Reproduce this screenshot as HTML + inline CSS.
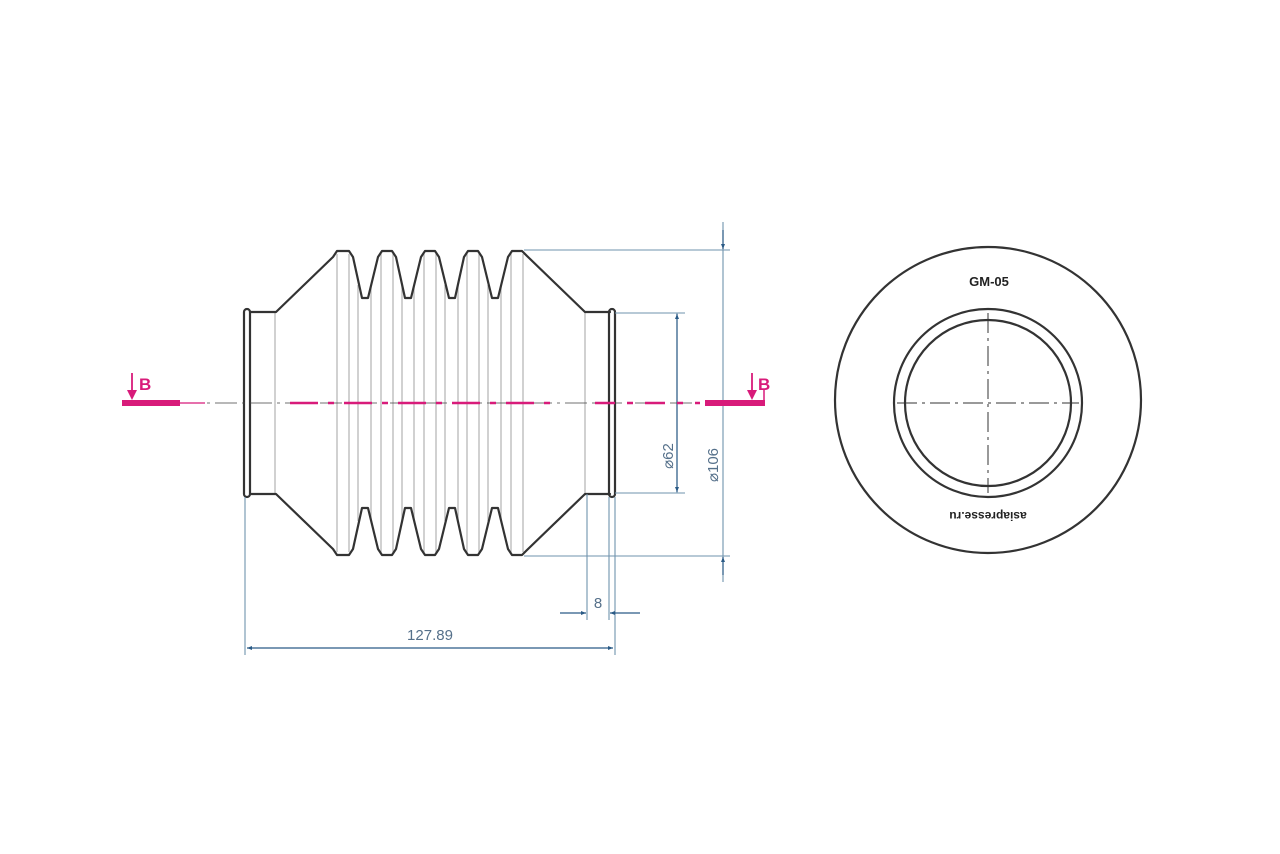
<!DOCTYPE html>
<html><head><meta charset="utf-8"><style>
html,body{margin:0;padding:0;background:#fff;}
svg{display:block;}
</style></head><body>
<svg width="1280" height="854" viewBox="0 0 1280 854" xmlns="http://www.w3.org/2000/svg">
<rect width="1280" height="854" fill="#fff"/>
<defs>
<marker id="ar" viewBox="0 0 10 10" refX="10" refY="5" markerWidth="9" markerHeight="5" orient="auto-start-reverse" markerUnits="userSpaceOnUse"><path d="M0,1 L10,5 L0,9 z" fill="#2a5a86"/></marker>
</defs>
<!-- gray crease lines -->
<g stroke="#b8b8b8" stroke-width="1.3">
<line x1="275" y1="312" x2="275" y2="494"/>
<line x1="585" y1="312" x2="585" y2="494"/>
<line x1="337" y1="254" x2="337" y2="552"/><line x1="349" y1="254" x2="349" y2="552"/>
<line x1="358" y1="285" x2="358" y2="521"/><line x1="371" y1="285" x2="371" y2="521"/>
<line x1="381" y1="254" x2="381" y2="552"/><line x1="393" y1="254" x2="393" y2="552"/>
<line x1="402" y1="285" x2="402" y2="521"/><line x1="414" y1="285" x2="414" y2="521"/>
<line x1="424" y1="254" x2="424" y2="552"/><line x1="436" y1="254" x2="436" y2="552"/>
<line x1="445" y1="285" x2="445" y2="521"/><line x1="458" y1="285" x2="458" y2="521"/>
<line x1="467" y1="254" x2="467" y2="552"/><line x1="479" y1="254" x2="479" y2="552"/>
<line x1="488" y1="285" x2="488" y2="521"/><line x1="501" y1="285" x2="501" y2="521"/>
<line x1="511" y1="254" x2="511" y2="552"/><line x1="523" y1="254" x2="523" y2="552"/>
</g>
<!-- bellows profile -->
<g fill="none" stroke="#333" stroke-width="2.2" stroke-linejoin="round" stroke-linecap="round">
<polyline points="250,312 276,312 333,257 337,251 349,251 353,257 362,298 368,298 378,257 382,251 392,251 396,257 405,298 411,298 421,257 425,251 435,251 439,257 449,298 455,298 464,257 468,251 478,251 482,257 492,298 498,298 508,257 512,251 522,251 527,256 585,312 610,312"/>
<polyline points="250,494 276,494 333,549 337,555 349,555 353,549 362,508 368,508 378,549 382,555 392,555 396,549 405,508 411,508 421,549 425,555 435,555 439,549 449,508 455,508 464,549 468,555 478,555 482,549 492,508 498,508 508,549 512,555 522,555 527,550 585,494 610,494"/>
<rect x="244" y="309" width="6" height="188" rx="3"/>
<rect x="609" y="309" width="6" height="188" rx="3"/>
</g>
<!-- blue dimensions -->
<g stroke="#6f93ad" stroke-width="1.1" fill="none">
<line x1="245" y1="497" x2="245" y2="655"/>
<line x1="615" y1="497" x2="615" y2="655"/>
<line x1="587" y1="494" x2="587" y2="620"/>
<line x1="609" y1="497" x2="609" y2="620"/>
<line x1="524" y1="250" x2="730" y2="250"/>
<line x1="524" y1="556" x2="730" y2="556"/>
<line x1="615" y1="313" x2="685" y2="313"/>
<line x1="615" y1="493" x2="685" y2="493"/>
<line x1="723" y1="222" x2="723" y2="582"/>
<line x1="677" y1="313" x2="677" y2="493"/>
</g>
<g stroke="#2a5a86" stroke-width="1.2" fill="none">
<line x1="247" y1="648" x2="613" y2="648" marker-start="url(#ar)" marker-end="url(#ar)"/>
<line x1="560" y1="613" x2="586" y2="613" marker-end="url(#ar)"/>
<line x1="640" y1="613" x2="610" y2="613" marker-end="url(#ar)"/>
<line x1="677" y1="400" x2="677" y2="492" marker-end="url(#ar)"/>
<line x1="677" y1="400" x2="677" y2="314" marker-end="url(#ar)"/>
<line x1="723" y1="230" x2="723" y2="249" marker-end="url(#ar)"/>
<line x1="723" y1="575" x2="723" y2="557" marker-end="url(#ar)"/>
</g>
<g font-family="'Liberation Sans',sans-serif" fill="#55708a" font-size="15">
<text x="430" y="640" text-anchor="middle">127.89</text>
<text x="598" y="608" text-anchor="middle">8</text>
<text transform="translate(673,456) rotate(-90)" text-anchor="middle">⌀62</text>
<text transform="translate(718,465) rotate(-90)" text-anchor="middle">⌀106</text>
</g>
<!-- centerline -->
<line x1="180" y1="403" x2="705" y2="403" stroke="#444" stroke-width="0.8" stroke-dasharray="22,5,3,5"/>
<line x1="290" y1="403" x2="560" y2="403" stroke="#d81b7a" stroke-width="2.4" stroke-dasharray="28,10,6,10"/>
<line x1="595" y1="403" x2="700" y2="403" stroke="#d81b7a" stroke-width="2.4" stroke-dasharray="20,12,6,12"/>
<!-- section markers -->
<g fill="#d81b7a" stroke="#d81b7a">
<rect x="122" y="400" width="58" height="6" stroke="none"/>
<line x1="180" y1="403" x2="205" y2="403" stroke-width="1.2"/>
<line x1="132" y1="373" x2="132" y2="393" stroke-width="1.8"/>
<path d="M127,390 L137,390 L132,400 z" stroke="none"/>
<rect x="705" y="400" width="60" height="6" stroke="none"/>
<line x1="752" y1="373" x2="752" y2="393" stroke-width="1.8"/>
<path d="M747,390 L757,390 L752,400 z" stroke="none"/>
<line x1="764" y1="390" x2="764" y2="403" stroke-width="1.5"/>
</g>
<g font-family="'Liberation Sans',sans-serif" fill="#d81b7a" font-size="17" font-weight="bold">
<text x="139" y="390">B</text>
<text x="758" y="390">B</text>
</g>
<!-- end view -->
<g fill="none" stroke="#333" stroke-width="2.2">
<circle cx="988" cy="400" r="153"/>
<circle cx="988" cy="403" r="94"/>
<circle cx="988" cy="403" r="83"/>
</g>
<g stroke="#333" stroke-width="1" stroke-dasharray="20,5,3,5">
<line x1="897" y1="403" x2="1079" y2="403"/>
<line x1="988" y1="313" x2="988" y2="493"/>
</g>
<g font-family="'Liberation Sans',sans-serif" fill="#222" font-size="13" font-weight="bold">
<text x="989" y="286" text-anchor="middle">GM-05</text>
<text transform="translate(988,512) rotate(180)" text-anchor="middle" font-size="12">asiapresse.ru</text>
</g>
</svg>
</body></html>
